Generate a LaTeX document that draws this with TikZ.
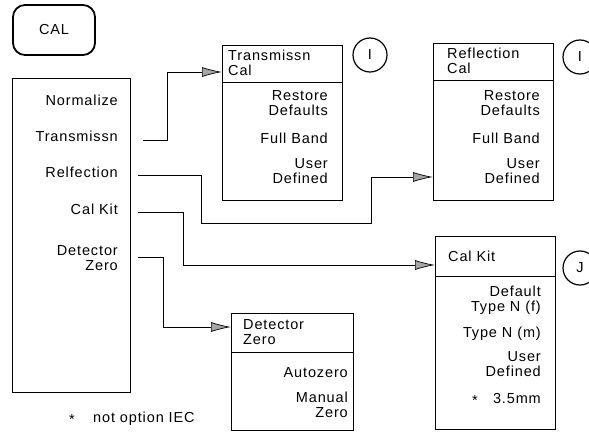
\documentclass[tikz,border=0pt]{standalone}
\usepackage{fontspec}
\setmainfont[LetterSpace=6]{Liberation Sans}
\usetikzlibrary{arrows.meta, positioning, calc}

\begin{document}
\begin{tikzpicture}[
  x=1pt, y=-1pt,
  every node/.style={font=\fontsize{14.5}{15}\selectfont, inner sep=0pt},
  panel/.style={rectangle, draw, line width=1.1pt, anchor=north west},
  key/.style={rectangle, draw, line width=1.8pt, rounded corners=12pt},
  item/.style={anchor=base east, align=right},
  head/.style={anchor=base west, align=left},
  tag/.style={circle, draw, line width=1.2pt, minimum size=34pt},
  link/.style={line width=0.7pt},
  feed/.style={link, -{Latex[length=20pt, width=10pt, fill=gray!70]}},
]
\useasboundingbox (0,0) rectangle (589,433);

% Hardkey
\node[key, minimum width=82pt, minimum height=50pt] (cal) at (54,30) {CAL};

% Column 1 -- CAL menu (base = last line)
\node[panel, minimum width=118pt, minimum height=314pt] (menu) at (12,78) {};
\node[item] (nrm) at (118,106) {Normalize};
\node[item] (trn) at (118,142) {Transmissn};
\node[item] (rfl) at (118,178) {Relfection};
\node[item] (kit) at (118,214) {Cal Kit};
\node[item] (det) at (118,270) {Detector\\Zero};

% Column 2 -- Transmissn Cal menu
\node[panel, minimum width=120pt, minimum height=155pt] (tcal) at (222,45) {};
\draw[link] (tcal.west |- 0,82) -- (tcal.east |- 0,82);
\node[head] (tcalhd) at (228,76) {Transmissn\\Cal};
\node[item] (trst) at (328,116) {Restore\\Defaults};
\node[item] (tful) at (328,143) {Full Band};
\node[item] (tusr) at (328,183) {User\\Defined};
\node[tag] (tagi) at (370,55) {I};

% Column 2 -- Detector Zero menu
\node[panel, minimum width=122pt, minimum height=117pt] (dbox) at (231,313) {};
\draw[link] (dbox.west |- 0,352) -- (dbox.east |- 0,352);
\node[head] (dhd) at (243,344) {Detector\\Zero};
\node[item] (dauto) at (348,377) {Autozero};
\node[item] (dman) at (348,417) {Manual\\Zero};

% Column 3 -- Reflection Cal menu
\node[panel, minimum width=120pt, minimum height=157pt] (rcal) at (433,43) {};
\draw[link] (rcal.west |- 0,80) -- (rcal.east |- 0,80);
\node[head] (rcalhd) at (447,74) {Reflection\\Cal};
\node[item] (rrst) at (540,116) {Restore\\Defaults};
\node[item] (rful) at (540,143) {Full Band};
\node[item] (rusr) at (540,183) {User\\Defined};
\node[tag] (tagii) at (580,57) {I};

% Column 3 -- Cal Kit menu
\node[panel, minimum width=120pt, minimum height=193pt] (kbox) at (435,236) {};
\draw[link] (kbox.west |- 0,276) -- (kbox.east |- 0,276);
\node[head] (khd) at (448,261) {Cal Kit};
\node[item] (kdef) at (541,311) {Default\\Type N (f)};
\node[item] (kmal) at (541,337) {Type N (m)};
\node[item] (kusr) at (541,376) {User\\Defined};
\node[item] (kmm) at (541,403) {3.5mm};
\node[anchor=base] (kstar) at (475,405) {*};
\node[tag] (tagj) at (580,268) {J};

% Footnote
\node[anchor=base] (star) at (72,424) {*};
\node[anchor=base west] (note) at (93,422) {not option IEC};

% Arrows
\draw[feed] ([shift={(25,-2)}]trn.base east) -- ++(24,0) |- ([yshift=-27pt]tcal.north west);
\draw[feed] ([shift={(20,-3)}]rfl.base east) -- ++(63,0) -- ++(0,48) -- ++(170,0) |- ([yshift=-134pt]rcal.north west);
\draw[feed] ([shift={(20,-2)}]kit.base east) -- ++(45,0) |- ([yshift=-29pt]kbox.north west);
\draw[feed] ([shift={(20,-13)}]det.base east) -- ++(25,0) |- ([yshift=-14pt]dbox.north west);

\end{tikzpicture}
\end{document}
